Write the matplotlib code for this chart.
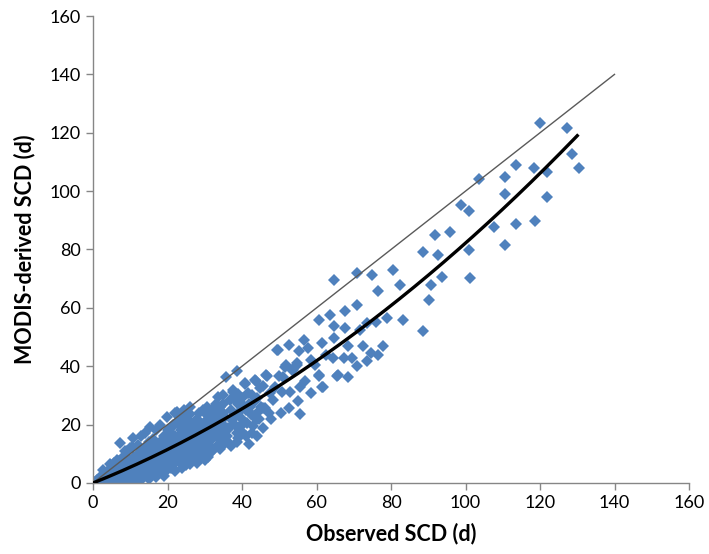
import matplotlib
matplotlib.use("Agg")
import matplotlib.pyplot as plt
import numpy as np

# Observed SCD (x) and MODIS-derived SCD (y)
obs_dense = [0,0.5,1,1,1.5,2,2,2.5,3,3,3,3.5,4,4,4,4.5,5,5,5,5.5,6,6,6,6.5,7,7,7,7.5,8,8,8,8.5,9,9,9,9.5,10,10,10,10,
             2,4,6,8,1.5,3,5,7,9,6.5,7.2,8.5,5.5,4.5,2.8,1,3,5,6,8]
mod_dense = [0,0.3,0.5,1,0.5,1,2,0.5,1.5,3,0.5,2,1,2.5,4,0.5,2,3.5,5.5,1,2.5,4,6,1,3,5,7.5,1.5,3.5,6,9,2,4,7,11,1,3,5,8,12,
             0,0,0,0.5,1.5,2.2,1,1,2.5,8,13.6,11,7,6.5,4.5,0,0.2,0.3,0.6,1.2]

obs_10_20 = [10.4,10.8,11,11,11,11,11.5,12,12,12,12,12,12.5,13,13,13,13,13,13.5,14,14,14,14,14,14,14.5,15,15,15,15,15,15.3,15.5,
             16,16,16,16,16,16.5,17,17,17,17,17,17,17.5,18,18,18,18,18,18,18.5,19,19,19,19,19,19.8,19.5,20,20,20,20,20,20.7,
             11,13,15,17,19,12,14,16,18,20]
mod_10_20 = [12.4,15.3,2,4,6,9,7,3,5,8,10,13,1.5,4,6,9,11,16,7,3,5,8,10,12,17,6,4,7,9,11,14,19.3,2.5,
             5,8,10,12,15,6.5,4,7,9,11,13,18,3,6,8,10,12,14,19.9,5,7,9,11,13,16,22.7,4,8,10,12,15,18,6.2,
             0.5,1,1.5,2,2.5,5.5,6.5,3.5,4,5]

obs_20_30 = [21,21,21,21,21,21.5,22,22,22,22,22,22.5,23,23,23,23,23,23.4,24,24,24,24,24,24.5,25,25,25,25,25,25.5,
             26,26,26,26,26,26.5,27,27,27,27,27.8,28,28,28,28,28.5,29,29,29,29.2,29.6,30,30,30,30,30.5,30.5,
             22,24,26,28,30,27,25,23,
             20.5,21.5,22.5,23.5,24.5,25.5,26.5,27.5,28.5,29.5,21,23,25,27,29,22,24,26,28,30]
mod_20_30 = [5,9,11,13,17,20,7,10,12,14,24,24.4,8,11,13,16,20,7.9,9,12,14,17,22,25,8,11,13,15,19,10,
             26.1,12,14,17,21,9,11,13,16,19,10.7,12,15,18,22,14,13,16,20,13,25,12,15,18,21,23.3,17,
             4,5,6.5,7,9,8,6,7.5,
             14,15,10,18,15.5,21,18,20.5,24,10.5,19,21.5,23,14.5,8.5,16,19.5,23.5,9.5,10]

obs_30_46 = [31,31,31,31.8,31.8,32,32,32,33,33,33,33.6,33.9,34,34,34.5,35,35,35,35.7,36,36.3,36.8,37,37,37.7,37.7,
             38,38.6,38.6,38.7,39,39,39.5,40,40,40.8,40.8,41,41.3,42,42.1,42.6,42.6,43,43.5,43.8,43.9,44,44.8,
             45,45.5,45.7,45.7,46.2,46.4,46.6,47.5,47.7,48.4,48.9,49.5,49.6,49.9,32,36,40,44,34,38,
             30.5,31.5,32.5,33.5,34.5,35.5,36.5,37.5,38.5,39.5,40.5,41.5,42.5,43.5,44.5,33,35,37,39,41,43,
             31,34,36,39,42,30,32,35,40,44]
mod_30_46 = [14,19,22,14.7,10.7,17,20,25,16,19,23,29.6,23.9,18,21,18.2,20,24,27,36.4,16,14.1,28.4,22,25,31.3,31.8,
             20,17,14.1,38.4,24,27,27.3,22,29,33.9,34.1,25,20.4,27,26.1,30.1,17,23,35.3,35,21.8,29,32.4,
             26,18.7,33.2,25.6,25.6,37,36.6,30.7,21.8,28.4,33,45.5,45.5,36.6,12,19,20,24,26,23,
             26,24.5,22,13,15,22.5,19,29,23,19.5,26.5,31,23.5,28,22,27,30,12.5,30.5,16,19.5,
             9,11.5,18,15.5,13.5,8,11,13,17.5,16]

obs_sparse = [50.5,50.7,50.9,51.5,51.7,52.7,52.7,52.9,53.3,53.6,54.7,54.7,55.4,55.6,55.6,56.7,57.8,58.5,58.5,60.7,60.7,
              60.8,61.4,61.6,61.8,63.6,64.5,64.7,64.7,64.7,65.6,65.9,67.5,67.7,67.7,68.5,68.5,69.4,70.8,70.8,70.8,
              71.7,72.6,73.6,73.6,74.5,74.9,76.1,76.6,76.6,77.8,78.8,80.6,82.4,83.1,88.5,88.5,90.3,90.7,91.8,92.5,
              93.6,95.8,98.7,100.9,100.9,101.2,103.7,107.7,110.7,110.7,110.6,113.6,113.6,118.5,118.6,120.0,121.8,
              121.8,127.3,128.7,130.5,47.3,55.0,57.0,59.5,62.5]
mod_sparse = [23.9,31.3,36.4,39.8,40.4,25.6,47.3,31.3,38.7,38.7,40.4,41.0,45.3,23.5,32.8,49.0,46.1,30.9,42.1,55.8,37.0,
              36.6,33.0,47.8,33.0,57.5,42.9,69.5,53.8,49.8,36.6,37.0,42.7,59.0,53.0,46.9,36.4,42.7,72.0,61.0,40.1,
              52.4,47.0,54.9,41.9,44.6,71.2,55.3,65.9,43.8,47.0,56.6,72.9,67.8,55.8,79.0,52.2,62.7,67.8,84.9,78.1,
              70.7,85.9,95.1,93.3,79.8,70.1,104.0,87.8,104.8,98.9,81.7,109.1,88.6,107.8,89.6,123.4,106.6,
              97.9,121.5,112.7,108.0,24.0,28.0,35.0,40.5,44.0]

observed = obs_dense + obs_10_20 + obs_20_30 + obs_30_46 + obs_sparse
modis = mod_dense + mod_10_20 + mod_20_30 + mod_30_46 + mod_sparse

# reference 1:1 line and 2nd-order trendline coefficients
one_to_one_end = 140
trend_coef = [0.00311, 0.511, 0.0]   # y = a x^2 + b x + c
trend_xmax = 130

xticks = [0, 20, 40, 60, 80, 100, 120, 140, 160]
yticks = [0, 20, 40, 60, 80, 100, 120, 140, 160]

fig = plt.figure(figsize=(7.09, 5.54), dpi=100)
ax = fig.add_axes([0.1312, 0.1282, 0.8406, 0.8429])

ax.plot(observed, modis, linestyle='none', marker='D', markersize=6.0,
        color='#4F81BD', markeredgewidth=0, zorder=2)
ax.plot([0, one_to_one_end], [0, one_to_one_end], color='#5a5a5a', lw=1.0, zorder=3)
xt = np.linspace(0, trend_xmax, 200)
ax.plot(xt, np.polyval(trend_coef, xt), color='black', lw=2.4, zorder=4)

ax.set_xlim(0, 160)
ax.set_ylim(0, 160)
ax.set_xticks(xticks)
ax.set_yticks(yticks)
for s in ['top', 'right']:
    ax.spines[s].set_visible(False)
for s in ['left', 'bottom']:
    ax.spines[s].set_color('#868686')
    ax.spines[s].set_linewidth(1.0)
ax.tick_params(direction='out', length=5, width=1, color='#868686',
               labelsize=13, labelcolor='black', pad=4)
for lab in ax.get_xticklabels() + ax.get_yticklabels():
    lab.set_family('Lato')

ax.set_xlabel('Observed SCD (d)', fontsize=15.5, fontweight='bold', family='Lato', labelpad=8)
ax.set_ylabel('MODIS-derived SCD (d)', fontsize=15.5, fontweight='bold', family='Lato', labelpad=10)

fig.savefig('out.png', dpi=100)
